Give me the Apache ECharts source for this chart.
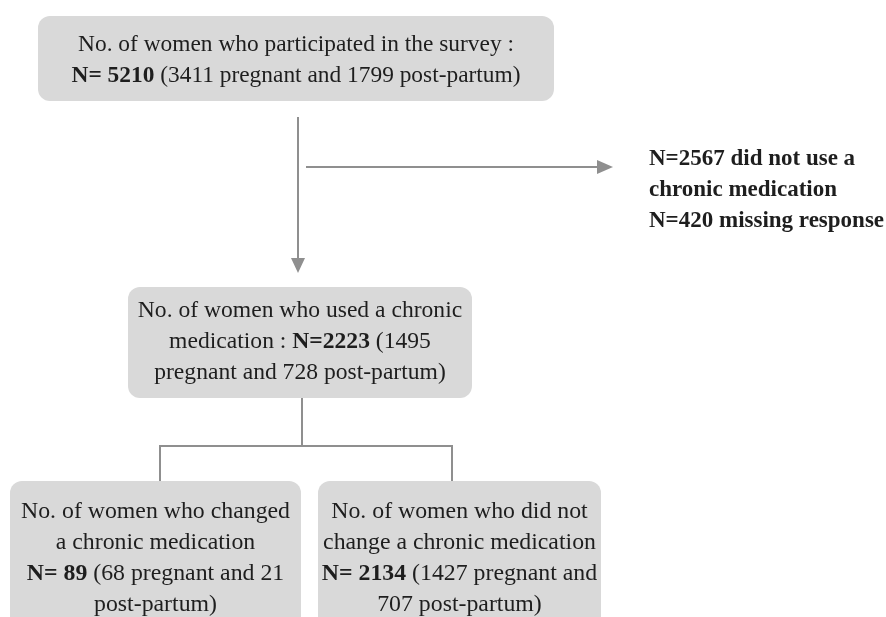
<!DOCTYPE html>
<html>
<head>
<meta charset="utf-8">
<title>Flow of participants</title>
<script src="https://cdn.jsdelivr.net/npm/echarts@6/dist/echarts.min.js"></script>
<style>
  html, body { margin: 0; padding: 0; background: #fff; }
  #chart { width: 886px; height: 617px; }
</style>
</head>
<body>
<div id="chart"></div>
<script>
// counts shown in the flow chart
const totalN = [5210, 2223, 89, 2134]
const pregnantN = [3411, 1495, 68, 1427]
const postpartumN = [1799, 728, 21, 707]
const excludedN = [2567, 420]

const boxLines = [
  [
    'No. of women who participated in the survey :',
    `{b|N= ${totalN[0]}} (${pregnantN[0]} pregnant and ${postpartumN[0]} post-partum)`
  ],
  [
    'No. of women who used a chronic',
    `medication : {b|N=${totalN[1]}} (${pregnantN[1]}`,
    `pregnant and ${postpartumN[1]} post-partum)`
  ],
  [
    'No. of women who changed',
    'a chronic medication',
    `{b|N= ${totalN[2]}} (${pregnantN[2]} pregnant and ${postpartumN[2]}`,
    'post-partum)'
  ],
  [
    'No. of women who did not',
    'change a chronic medication',
    `{b|N= ${totalN[3]}} (${pregnantN[3]} pregnant and`,
    `${postpartumN[3]} post-partum)`
  ]
]
const sideLines = [
  `N=${excludedN[0]} did not use a`,
  'chronic medication',
  `N=${excludedN[1]} missing response`
]

const FONT = '"Liberation Serif", "DejaVu Serif", serif'
const TEXT_COLOR = '#1e1e1e'
const LINE_COLOR = '#8f8f8f'
const BOX_FILL = '#d9d9d9'

// box frames: x, y, width, height, first text line y, font size
const boxes = [
  { x: 38, y: 16, w: 516, h: 85, ty: 45, fs: 23.4 },
  { x: 128, y: 287, w: 344, h: 111, ty: 311, fs: 23.6 },
  { x: 10, y: 481, w: 291, h: 150, ty: 512, fs: 23.8 },
  { x: 318, y: 481, w: 283, h: 150, ty: 512, fs: 23.8 }
]
const lineGap = 31

const elements = []

boxes.forEach((b, i) => {
  elements.push({
    type: 'rect',
    shape: { x: b.x, y: b.y, width: b.w, height: b.h, r: 12 },
    style: { fill: BOX_FILL }
  })
  boxLines[i].forEach((t, k) => {
    elements.push({
      type: 'text',
      x: b.x + b.w / 2,
      y: b.ty + k * lineGap,
      style: {
        text: t,
        align: 'center',
        verticalAlign: 'middle',
        font: `${b.fs}px ${FONT}`,
        fill: TEXT_COLOR,
        rich: {
          b: { fontWeight: 'bold', fontSize: b.fs, fontFamily: FONT, fill: TEXT_COLOR }
        }
      }
    })
  })
})

sideLines.forEach((t, k) => {
  elements.push({
    type: 'text',
    x: 649,
    y: 159 + k * 31,
    style: {
      text: t,
      align: 'left',
      verticalAlign: 'middle',
      font: `bold 23px ${FONT}`,
      fill: TEXT_COLOR
    }
  })
})

const lineStyle = { stroke: LINE_COLOR, lineWidth: 2, fill: null }

// vertical arrow
elements.push({ type: 'polyline', shape: { points: [[298, 117], [298, 259]] }, style: lineStyle })
elements.push({ type: 'polygon', shape: { points: [[291, 258], [305, 258], [298, 273]] }, style: { fill: LINE_COLOR } })
// horizontal arrow
elements.push({ type: 'polyline', shape: { points: [[306, 167], [598, 167]] }, style: lineStyle })
elements.push({ type: 'polygon', shape: { points: [[597, 160], [597, 174], [613, 167]] }, style: { fill: LINE_COLOR } })
// branch connector
elements.push({ type: 'polyline', shape: { points: [[302, 398], [302, 446]] }, style: lineStyle })
elements.push({ type: 'polyline', shape: { points: [[160, 481], [160, 446], [452, 446], [452, 481]] }, style: lineStyle })

const chart = echarts.init(document.getElementById('chart'))
chart.setOption({
  animation: false,
  graphic: { elements: elements }
})
</script>
</body>
</html>
